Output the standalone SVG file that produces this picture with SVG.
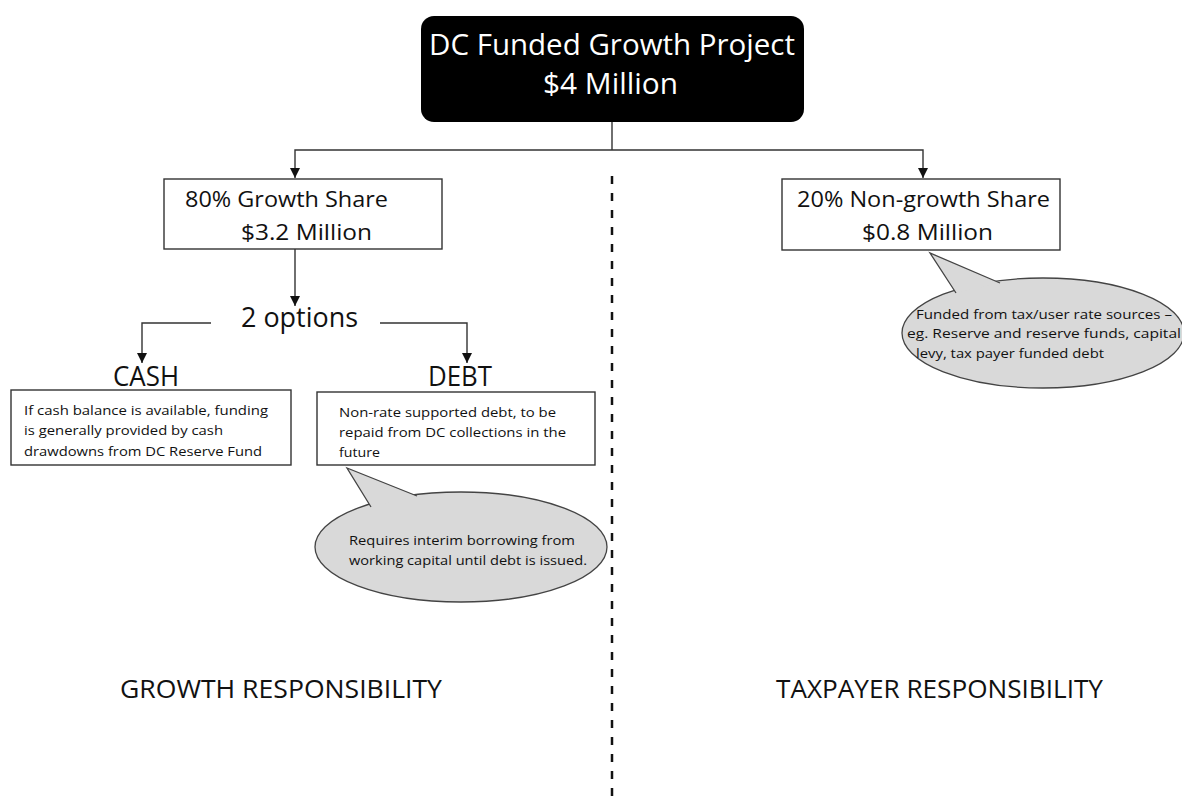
<svg xmlns="http://www.w3.org/2000/svg" width="1182" height="804" viewBox="0 0 1182 804">
  <defs>
    <marker id="arrow" markerUnits="userSpaceOnUse" markerWidth="10" markerHeight="10" refX="10" refY="5" orient="auto">
      <path d="M0,0 L10,5 L0,10 z" fill="#111"/>
    </marker>
    <style>
      text { font-family: "Open Sans", "Noto Sans", sans-serif; fill: #111; }
      .title { fill: #fff; font-size: 29px; }
      .share { font-size: 21px; }
      .opt { font-size: 27px; }
      .small { font-size: 13.5px; }
      .resp { font-size: 25px; }
      .box { fill: #fff; stroke: #333; stroke-width: 1.4; }
      .bubble { fill: #d9d9d9; stroke: #444; stroke-width: 1.3; }
      .conn { fill: none; stroke: #333; stroke-width: 1.4; }
    </style>
  </defs>
  <rect width="1182" height="804" fill="#fff"/>

  <!-- divider between growth and taxpayer sides -->
  <line x1="612" y1="176" x2="612" y2="804" stroke="#111" stroke-width="2.5" stroke-dasharray="8 9"/>

  <g id="connectors">
    <path class="conn" d="M612,122 V150"/>
    <path class="conn" d="M612,150 H295 V178" marker-end="url(#arrow)"/>
    <path class="conn" d="M612,150 H923 V178" marker-end="url(#arrow)"/>
    <path class="conn" d="M295,249 V306" marker-end="url(#arrow)"/>
    <path class="conn" d="M211,323 H142 V363" marker-end="url(#arrow)"/>
    <path class="conn" d="M380,323 H467 V363" marker-end="url(#arrow)"/>
  </g>

  <g id="project">
    <rect x="421" y="16" width="383" height="106" rx="13" fill="#000"/>
    <text class="title" x="429" y="55" textLength="366" lengthAdjust="spacingAndGlyphs">DC Funded Growth Project</text>
    <text class="title" x="543" y="94" textLength="135" lengthAdjust="spacingAndGlyphs">$4 Million</text>
  </g>

  <g id="growth-share">
    <rect class="box" x="164" y="179" width="278" height="70"/>
    <text class="share" x="185" y="207" textLength="203" lengthAdjust="spacingAndGlyphs">80% Growth Share</text>
    <text class="share" x="241" y="240" textLength="131" lengthAdjust="spacingAndGlyphs">$3.2 Million</text>
  </g>

  <g id="nongrowth-share">
    <rect class="box" x="782" y="179" width="278" height="71"/>
    <text class="share" x="797" y="207" textLength="253" lengthAdjust="spacingAndGlyphs">20% Non-growth Share</text>
    <text class="share" x="862" y="240" textLength="131" lengthAdjust="spacingAndGlyphs">$0.8 Million</text>
  </g>

  <g id="options">
    <text class="opt" x="241" y="327" textLength="117" lengthAdjust="spacingAndGlyphs">2 options</text>
  </g>

  <g id="cash">
    <text class="opt" x="113" y="386" textLength="66" lengthAdjust="spacingAndGlyphs">CASH</text>
    <rect class="box" x="11" y="390" width="280" height="75"/>
    <text class="small" x="24" y="415" textLength="244" lengthAdjust="spacingAndGlyphs">If cash balance is available, funding</text>
    <text class="small" x="24" y="435" textLength="199" lengthAdjust="spacingAndGlyphs">is generally provided by cash</text>
    <text class="small" x="24" y="456" textLength="238" lengthAdjust="spacingAndGlyphs">drawdowns from DC Reserve Fund</text>
  </g>

  <g id="debt">
    <text class="opt" x="428" y="386" textLength="64" lengthAdjust="spacingAndGlyphs">DEBT</text>
    <rect class="box" x="317" y="392" width="278" height="73"/>
    <text class="small" x="339" y="417" textLength="217" lengthAdjust="spacingAndGlyphs">Non-rate supported debt, to be</text>
    <text class="small" x="339" y="437" textLength="227" lengthAdjust="spacingAndGlyphs">repaid from DC collections in the</text>
    <text class="small" x="339" y="457" textLength="41" lengthAdjust="spacingAndGlyphs">future</text>
  </g>

  <g id="debt-note">
    <ellipse class="bubble" cx="461" cy="547" rx="146" ry="55"/>
    <path class="bubble" d="M371,507 L347,468 L417,496"/>
    <text class="small" x="349" y="545" textLength="226" lengthAdjust="spacingAndGlyphs">Requires interim borrowing from</text>
    <text class="small" x="349" y="565" textLength="238" lengthAdjust="spacingAndGlyphs">working capital until debt is issued.</text>
  </g>

  <g id="taxpayer-note">
    <ellipse class="bubble" cx="1043" cy="333" rx="141" ry="55"/>
    <path class="bubble" d="M956,293 L930,253 L1000,283"/>
    <text class="small" x="916" y="319" textLength="256" lengthAdjust="spacingAndGlyphs">Funded from tax/user rate sources –</text>
    <text class="small" x="907" y="338" textLength="274" lengthAdjust="spacingAndGlyphs">eg. Reserve and reserve funds, capital</text>
    <text class="small" x="916" y="358" textLength="188" lengthAdjust="spacingAndGlyphs">levy, tax payer funded debt</text>
  </g>

  <g id="responsibility-labels">
    <text class="resp" x="120" y="698" textLength="322" lengthAdjust="spacingAndGlyphs">GROWTH RESPONSIBILITY</text>
    <text class="resp" x="776" y="698" textLength="327" lengthAdjust="spacingAndGlyphs">TAXPAYER RESPONSIBILITY</text>
  </g>
</svg>
